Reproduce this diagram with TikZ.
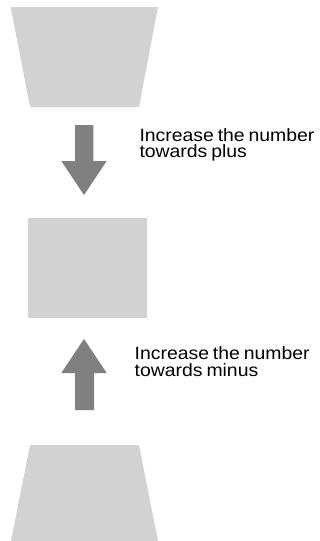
\documentclass[tikz,border=0pt]{standalone}
\usepackage{fontspec}
\setmainfont[FakeStretch=1.09,WordSpace=0.72]{Liberation Sans}
\definecolor{panel}{HTML}{D1D2D4}
\definecolor{arrowgray}{HTML}{808080}
\tikzset{
  panelshape/.style={fill=panel, draw=none},
  bigarrow/.style={fill=arrowgray, draw=none},
  label/.style={inner sep=0pt, anchor=base west, font=\fontsize{17.8pt}{17.8pt}\selectfont, text=black}
}
\begin{document}
\begin{tikzpicture}[x=1pt, y=-1pt]
\useasboundingbox (0,0) rectangle (320,541);
% top trapezoid
\fill[panelshape] (10.7,7) -- (158,7) -- (139,107) -- (30,107) -- cycle;
% middle rectangle
\fill[panelshape] (28,218) rectangle (147,318);
% bottom trapezoid
\fill[panelshape] (30,445) -- (139,445) -- (158,541) -- (11,541) -- cycle;
% down arrow
\fill[bigarrow] (75,125) -- (93.3,125) -- (93.3,161) -- (106.7,161) -- (84,195) -- (61.3,161) -- (75,161) -- cycle;
% up arrow
\fill[bigarrow] (75,410) -- (94,410) -- (94,373) -- (106.7,373) -- (84,339) -- (61.3,373) -- (75,373) -- cycle;
% labels
\node[label] (p1) at (139.3,141) {Increase the number};
\node[label] (p2) at (139.3,157.7) {towards plus};
\node[label] (m1) at (134.5,359.5) {Increase the number};
\node[label] (m2) at (134.5,376) {towards minus};
\end{tikzpicture}
\end{document}
